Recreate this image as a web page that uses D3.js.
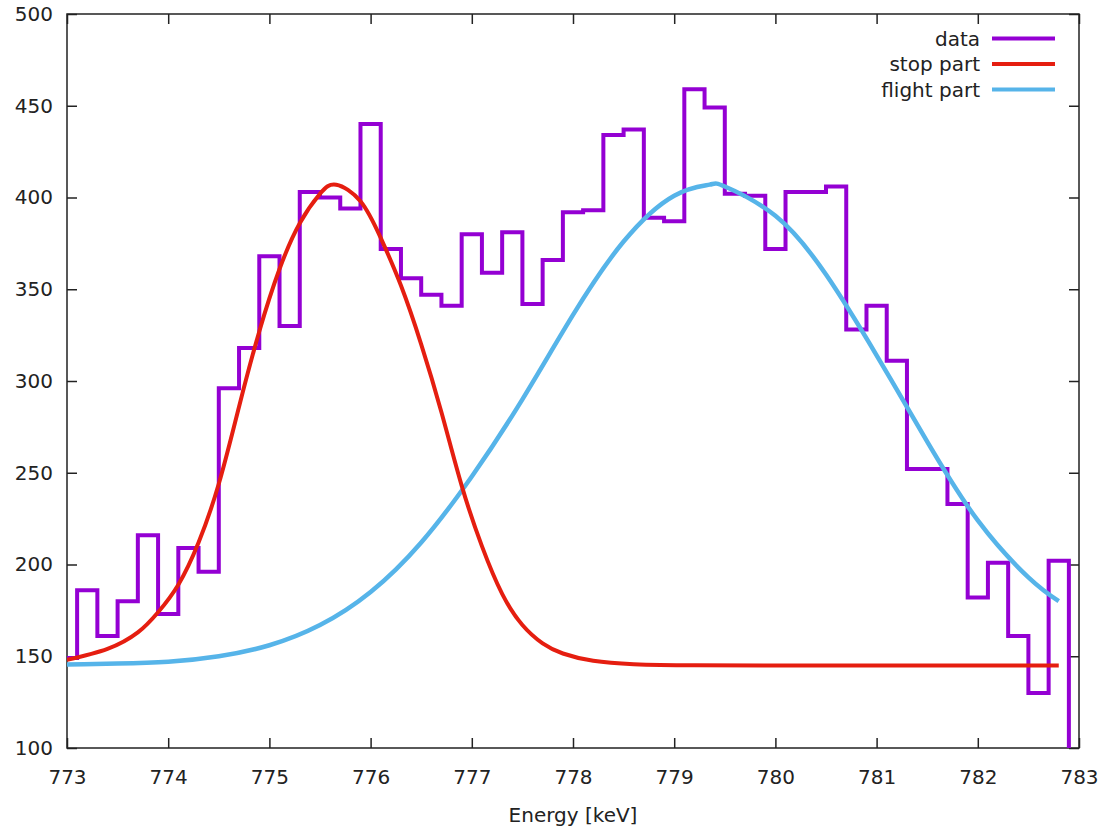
<!DOCTYPE html>
<html>
<head>
<meta charset="utf-8">
<script src="https://cdn.jsdelivr.net/npm/d3@7"></script>
<style>
body { margin: 0; background: #fff; }
text { font-family: "DejaVu Sans", sans-serif; fill: #222; }
</style>
</head>
<body>
<script>
// histogram bin centres [keV] and counts
var binEnergy = [773.0, 773.2, 773.4, 773.6, 773.8, 774.0, 774.2, 774.4, 774.6, 774.8,
                 775.0, 775.2, 775.4, 775.6, 775.8, 776.0, 776.2, 776.4, 776.6, 776.8,
                 777.0, 777.2, 777.4, 777.6, 777.8, 778.0, 778.2, 778.4, 778.6, 778.8,
                 779.0, 779.2, 779.4, 779.6, 779.8, 780.0, 780.2, 780.4, 780.6, 780.8,
                 781.0, 781.2, 781.4, 781.6, 781.8, 782.0, 782.2, 782.4, 782.6, 782.8, 783.0];
var counts = [149, 186, 161, 180, 216, 173, 209, 196, 296, 318,
              368, 330, 403, 400, 394, 440, 372, 356, 347, 341,
              380, 359, 381, 342, 366, 392, 393, 434, 437, 389,
              387, 459, 449, 402, 401, 372, 403, 403, 406, 328,
              341, 311, 252, 252, 233, 182, 201, 161, 130, 202, 60];

// fitted components
var stopEnergy = [773.0, 773.4, 773.7, 773.9, 774.1, 774.3, 774.5, 774.7, 774.9, 775.1,
                  775.3, 775.5, 775.66, 775.9, 776.1, 776.3, 776.5, 776.7, 776.9, 777.1,
                  777.3, 777.5, 777.7, 777.9, 778.2, 778.6, 779.2, 780.0, 781.0, 782.0, 782.8];
var stopValues = [148, 154, 163, 174, 189, 212, 244, 286, 327, 361,
                  386, 402, 407, 398, 378, 352, 320, 283, 243, 210,
                  184, 167, 157, 151.5, 147.5, 145.7, 145.1, 145, 145, 145, 145];
var flightEnergy = [773.0, 773.5, 774.0, 774.5, 775.0, 775.5, 776.0, 776.5, 777.0, 777.5,
                    778.0, 778.5, 779.0, 779.35, 779.5, 780.0, 780.5, 781.0, 781.5, 782.0,
                    782.5, 782.8];
var flightValues = [145.5, 146, 147, 150, 156, 167, 185, 212, 248, 290,
                    336, 376, 401, 407, 406, 390, 358, 314, 267, 224,
                    193, 180];

var xTicks = [773, 774, 775, 776, 777, 778, 779, 780, 781, 782, 783];
var yTicks = [100, 150, 200, 250, 300, 350, 400, 450, 500];
var legendLabels = ["data", "stop part", "flight part"];
var colors = ["#9400d3", "#e51e10", "#56b4e9"];

var width = 1112;
var height = 828;
var plotLeft = 67, plotRight = 1079, plotTop = 14, plotBottom = 748;

var svg = d3.select("body").append("svg")
            .attr("width", width)
            .attr("height", height);

var xScale = d3.scaleLinear().domain([773, 783]).range([plotLeft, plotRight]);
var yScale = d3.scaleLinear().domain([100, 500]).range([plotBottom, plotTop]);

svg.append("clipPath").attr("id", "plotClip")
   .append("rect")
   .attr("x", plotLeft).attr("y", plotTop)
   .attr("width", plotRight - plotLeft).attr("height", plotBottom - plotTop);

// axes (ticks point inward, mirrored on top/right)
var xAxis = d3.axisBottom(xScale).tickValues(xTicks).tickSizeInner(-10).tickSizeOuter(0).tickPadding(22);
var yAxis = d3.axisLeft(yScale).tickValues(yTicks).tickSizeInner(-10).tickSizeOuter(0).tickPadding(14);
svg.append("g").attr("transform", "translate(0," + plotBottom + ")").call(xAxis);
svg.append("g").attr("transform", "translate(" + plotLeft + ",0)").call(yAxis);
svg.append("g").attr("transform", "translate(0," + plotTop + ")")
   .call(d3.axisTop(xScale).tickValues(xTicks).tickSizeInner(-10).tickSizeOuter(0).tickFormat(""));
svg.append("g").attr("transform", "translate(" + plotRight + ",0)")
   .call(d3.axisRight(yScale).tickValues(yTicks).tickSizeInner(-10).tickSizeOuter(0).tickFormat(""));

svg.selectAll(".domain").remove();
svg.selectAll(".tick line").attr("stroke", "#222").attr("stroke-width", 1.5);
svg.selectAll(".tick text").style("font-size", "20px").style("font-family", "DejaVu Sans, sans-serif").attr("fill", "#222");

svg.append("rect")
   .attr("x", plotLeft).attr("y", plotTop)
   .attr("width", plotRight - plotLeft).attr("height", plotBottom - plotTop)
   .attr("fill", "none").attr("stroke", "#222").attr("stroke-width", 1.5);

// data histogram + fit curves
var histData = binEnergy.map(function(e, i) { return [e, counts[i]]; });
var stepLine = d3.line()
                 .x(function(d) { return xScale(d[0]); })
                 .y(function(d) { return yScale(d[1]); })
                 .curve(d3.curveStep);
var smoothLine = d3.line()
                   .x(function(d) { return xScale(d[0]); })
                   .y(function(d) { return yScale(d[1]); })
                   .curve(d3.curveNatural);

var plot = svg.append("g").attr("clip-path", "url(#plotClip)");
plot.append("path")
    .datum(histData)
    .attr("d", stepLine)
    .attr("fill", "none")
    .attr("stroke", colors[0])
    .attr("stroke-width", 4);

plot.append("path")
    .datum(flightEnergy.map(function(e, i) { return [e, flightValues[i]]; }))
    .attr("d", smoothLine)
    .attr("fill", "none")
    .attr("stroke", colors[2])
    .attr("stroke-width", 4.5);

plot.append("path")
    .datum(stopEnergy.map(function(e, i) { return [e, stopValues[i]]; }))
    .attr("d", smoothLine)
    .attr("fill", "none")
    .attr("stroke", colors[1])
    .attr("stroke-width", 4);

// x label
svg.append("text")
   .attr("x", (plotLeft + plotRight) / 2)
   .attr("y", 822)
   .attr("text-anchor", "middle")
   .style("font-size", "20px")
   .text("Energy [keV]");

// legend
var legend = svg.selectAll(".legend")
                .data(legendLabels)
                .enter()
                .append("g")
                .attr("transform", function(d, i) { return "translate(0," + (38.5 + i * 25.5) + ")"; });
legend.append("text")
      .attr("x", 980)
      .attr("dy", "0.35em")
      .attr("text-anchor", "end")
      .style("font-size", "20px")
      .text(function(d) { return d; });
legend.append("line")
      .attr("x1", 992).attr("x2", 1055)
      .attr("stroke", function(d, i) { return colors[i]; })
      .attr("stroke-width", 4);
</script>
</body>
</html>
